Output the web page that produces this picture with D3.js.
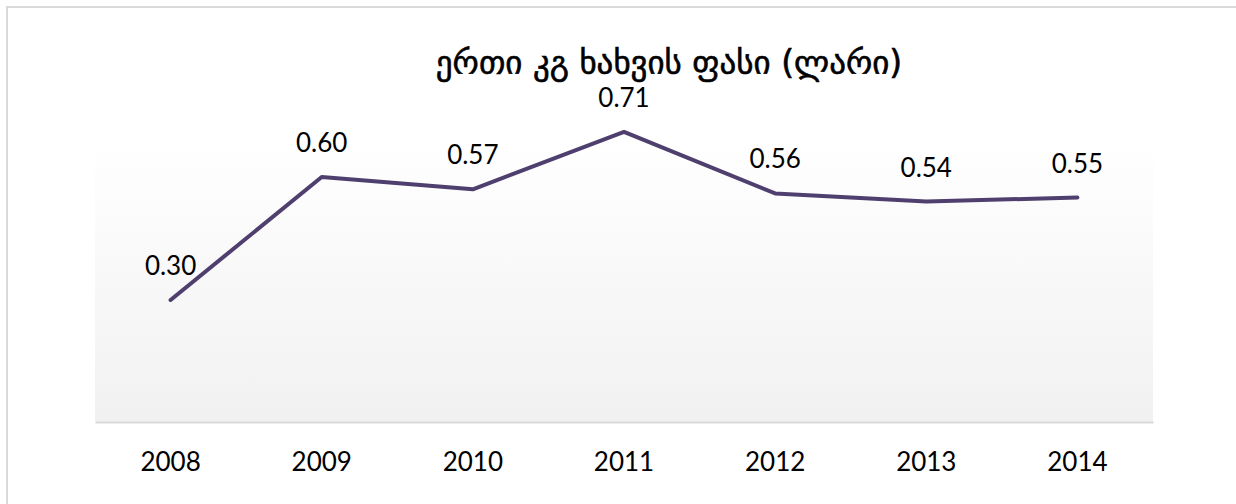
<!DOCTYPE html>
<html><head><meta charset="utf-8">
<script src="https://cdn.jsdelivr.net/npm/d3@7"></script>
<style>html,body{margin:0;padding:0;background:#fff;overflow:hidden}</style>
</head><body>
<svg id="c" width="1236" height="504"></svg>
<script>
const title = "ერთი კგ ხახვის ფასი (ლარი)";
const years = ["2008","2009","2010","2011","2012","2013","2014"];
const prices = [0.30, 0.60, 0.57, 0.71, 0.56, 0.54, 0.55];
const labels = ["0.30","0.60","0.57","0.71","0.56","0.54","0.55"];

const svg = d3.select("#c");
const defs = svg.append("defs");
const grad = defs.append("linearGradient").attr("id","bg").attr("x1",0).attr("y1",0).attr("x2",0).attr("y2",1);
grad.append("stop").attr("offset","0%").attr("stop-color","#ffffff");
grad.append("stop").attr("offset","100%").attr("stop-color","#f1f1f1");

// outer frame
svg.append("path").attr("d","M7,520 L7,7 L1250,7").attr("fill","none").attr("stroke","#d9d9d9").attr("stroke-width",2);

const x = d3.scaleBand().domain(years).range([95,1153]);
const y = d3.scaleLinear().domain([0,1]).range([423,13]);

svg.append("rect").attr("x",95).attr("y",139).attr("width",1058).attr("height",283).attr("fill","url(#bg)");

const axis = svg.append("g").attr("transform","translate(0,422)")
  .call(d3.axisBottom(x).tickSize(0).tickPadding(0));
axis.select(".domain").attr("stroke","#d9d9d9").attr("stroke-width",2);
axis.selectAll("text").attr("dy",null).attr("y",49).attr("font-family","Lato, 'Open Sans', sans-serif").attr("font-size",26).attr("fill","#000");

const cx = d => x(d) + x.bandwidth()/2;
const line = d3.line().x((d,i)=>cx(years[i])).y(d=>y(d));
svg.append("path").datum(prices).attr("d",line).attr("fill","none")
  .attr("stroke","#4e3f6e").attr("stroke-width",4).attr("stroke-linecap","round").attr("stroke-linejoin","round");

svg.append("g").selectAll("text").data(prices).join("text")
  .attr("x",(d,i)=>cx(years[i])).attr("y",d=>y(d)-25)
  .attr("text-anchor","middle").attr("font-family","Lato, 'Open Sans', sans-serif").attr("font-size",26).attr("fill","#000")
  .text((d,i)=>labels[i]);

svg.append("text").attr("x",669).attr("y",74).attr("text-anchor","middle")
  .attr("font-family","'DejaVu Sans', sans-serif").attr("font-size",33).attr("fill","#000")
  .attr("stroke","#000").attr("stroke-width",0.6).text(title);
</script>
</body></html>
